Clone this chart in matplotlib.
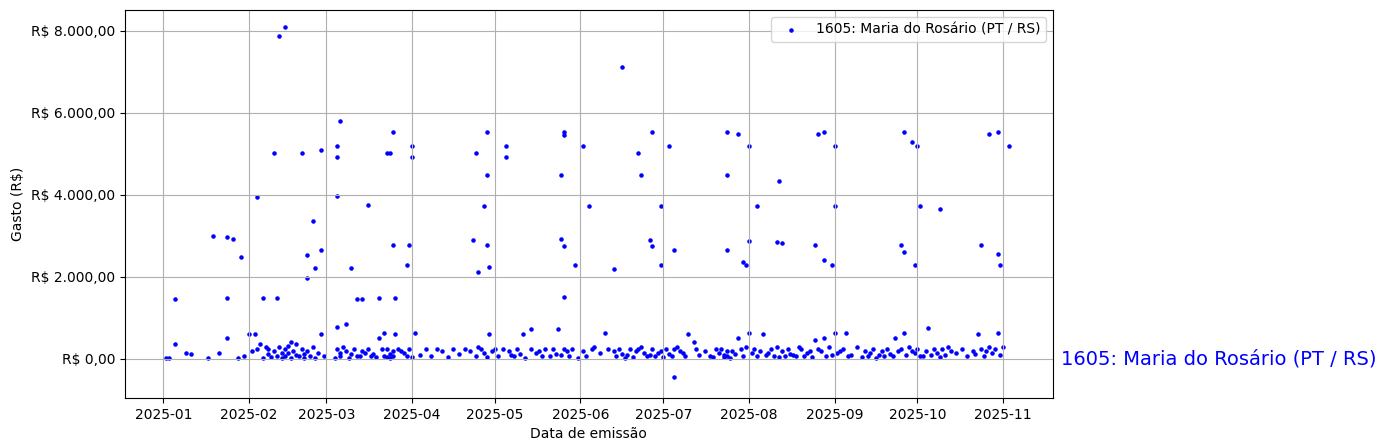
import matplotlib
matplotlib.use("Agg")
import matplotlib.pyplot as plt
import matplotlib.ticker as mticker
import matplotlib.dates as mdates
import pandas as pd

# high-value points: day offset from 2025-01-01 and value
dias_altos = [4,18,23,23,25,28,34,36,40,41,42,44,50,52,52,54,55,57,57,
              63,63,63,64,66,68,70,72,74,78,81,82,83,83,84,88,89,90,90,
              112,113,114,116,117,117,117,118,124,124,133,
              144,144,145,145,145,145,149,152,154,163,166,172,173,176,177,177,180,180,
              183,185,185,204,204,204,208,210,211,212,212,215,222,223,224,
              236,237,239,239,242,243,243,267,268,268,271,272,
              273,274,281,296,299,302,302,303,306]
val_altos = [1460,3000,2975,1490,2930,2490,3950,1490,5020,1490,7880,8100,5020,2540,1970,3360,2220,5100,2650,
             3970,5200,4930,5800,850,2220,1460,1460,3750,1490,5020,5020,5540,2780,1490,2290,2780,5200,4930,
             2900,5020,2120,3730,5540,2780,4490,2240,5200,4930,730,
             4490,2930,5460,5540,2760,1510,2290,5200,3730,2200,7120,5020,4490,2900,5540,2760,3730,2290,
             5200,2660,-440,5540,4490,2660,5490,2370,2290,5200,2880,3730,2850,4330,2830,
             2780,5490,5540,2410,2290,5200,3730,2780,2610,5540,5290,2290,
             5200,3730,3660,2780,5490,5540,2560,2290,5200]
# lower points
dias_baixos = [1,2,4,8,10,16,20,23,27,29,31,32,33,34,35,36,37,38,38,39,40,41,42,43,43,44,44,45,45,46,46,47,48,48,49,50,51,51,52,53,
               54,55,56,57,58,62,63,63,64,64,65,66,67,68,69,70,71,72,73,74,75,76,77,78,79,80,80,81,81,82,82,83,83,84,85,86,87,88,89,90,91,
               93,95,97,99,101,103,105,107,109,111,113,114,115,116,117,118,119,120,121,123,125,126,127,128,129,130,131,133,135,136,137,
               138,140,141,142,143,144,145,146,147,148,150,152,153,155,156,158,160,161,163,164,165,166,167,168,169,170,171,172,173,174,175,
               176,177,178,179,180,181,182,183,184,185,186,187,188,189,190,192,193,194,196,198,199,200,201,202,203,203,204,204,205,206,207,208,209,210,211,
               212,213,214,215,216,217,218,219,220,221,222,223,224,225,226,227,228,229,230,231,232,233,234,235,236,237,238,239,240,241,242,243,244,
               245,246,247,248,249,251,253,254,255,256,257,258,259,260,261,262,263,264,265,266,267,268,269,270,271,272,273,274,275,276,277,278,279,
               280,281,282,283,284,285,287,289,291,293,294,295,296,297,298,299,300,301,302,303,304,305,306,307]
val_baixos = [30,20,350,150,130,30,150,500,30,60,600,180,600,250,350,20,280,120,240,40,180,60,300,150,20,250,80,320,150,400,30,200,100,350,60,250,120,30,200,80,
              280,20,150,600,60,30,250,780,150,60,300,200,30,120,250,80,60,200,150,250,60,120,40,500,230,80,620,40,250,120,30,200,80,600,250,200,150,60,250,40,620,
              100,250,60,250,200,40,250,120,250,200,80,300,250,150,40,600,180,250,80,250,200,100,60,250,120,600,30,250,150,200,80,
              230,60,250,120,730,100,250,180,60,250,30,200,80,250,300,150,630,250,200,60,250,120,30,100,250,40,200,250,300,150,60,
              100,250,80,150,200,40,250,120,60,250,300,200,150,80,600,400,250,100,200,60,50,230,150,250,40,100,200,60,30,200,120,500,250,80,300,
              620,150,250,60,200,600,100,150,250,80,300,40,200,60,250,120,100,80,300,250,60,150,200,40,450,250,200,500,80,300,100,630,
              150,200,250,620,80,100,300,50,200,60,150,250,30,100,200,80,250,120,60,520,200,250,620,100,300,200,150,250,80,60,
              200,760,100,250,150,40,250,100,300,200,150,250,60,200,120,600,250,80,200,300,150,250,620,100,300]

n_alto = min(len(dias_altos), len(val_altos))
n_baixo = min(len(dias_baixos), len(val_baixos))
dias = dias_altos[:n_alto] + dias_baixos[:n_baixo]
valores = val_altos[:n_alto] + val_baixos[:n_baixo]

inicio = pd.Timestamp("2025-01-01")
datas = pd.to_datetime(dias, unit="D", origin=inicio)
rotulo = "1605: Maria do Rosário (PT / RS)"

fig = plt.figure(figsize=(13.87, 4.48), dpi=100)
ax = fig.add_axes([0.090, 0.112, 0.669, 0.866])
ax.scatter(datas, valores, s=5, color="blue", label=rotulo)
ax.set_xlim(pd.Timestamp("2024-12-18"), pd.Timestamp("2025-11-19"))
ax.set_ylim(-951, 8512)
ax.yaxis.set_major_locator(mticker.MultipleLocator(2000))
ax.yaxis.set_major_formatter(mticker.FuncFormatter(
    lambda v, p: "R$ " + f"{v:,.2f}".replace(",", "X").replace(".", ",").replace("X", ".")))
ax.xaxis.set_major_locator(mdates.MonthLocator())
ax.xaxis.set_major_formatter(mdates.DateFormatter("%Y-%m"))
ax.grid(True)
ax.set_xlabel("Data de emissão")
ax.set_ylabel("Gasto (R$)")
ax.legend(loc="upper right")
ax.text(1.009, 0, rotulo, transform=ax.get_yaxis_transform(), color="blue",
        fontsize=14, va="center", ha="left")
fig.savefig("out.png", dpi=100)
